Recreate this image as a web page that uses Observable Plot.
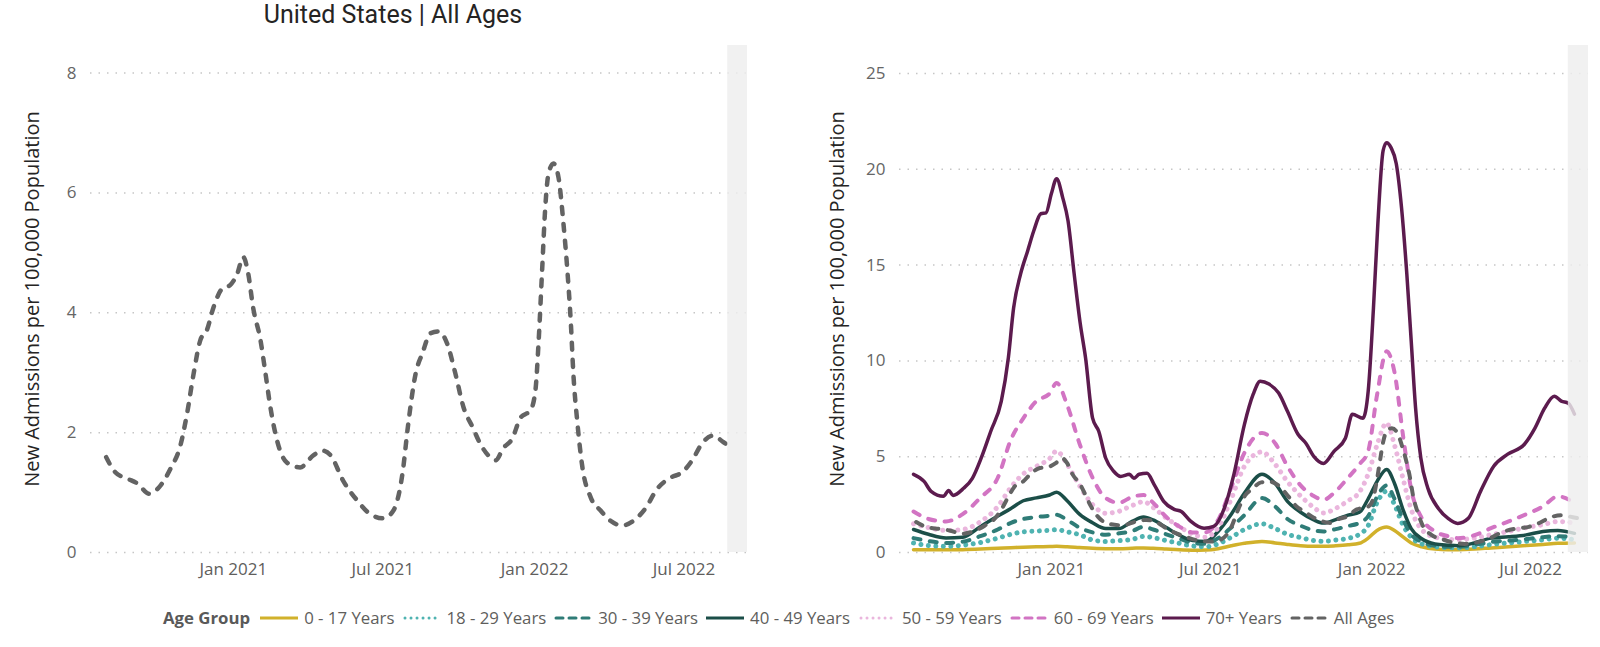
<!DOCTYPE html>
<html><head><meta charset="utf-8">
<script src="https://cdn.jsdelivr.net/npm/d3@7"></script>
<script src="https://cdn.jsdelivr.net/npm/@observablehq/plot@0.6"></script>
<style>
body{margin:0;width:1600px;height:647px;background:#fff;position:relative;overflow:hidden;font-family:"Open Sans",sans-serif;}
#title{position:absolute;left:0;width:786px;top:0;text-align:center;font-family:Roboto,sans-serif;font-size:25px;color:#252423;line-height:30px;}
#left{position:absolute;left:0;top:0;}
#right{position:absolute;left:790px;top:0;}
#legend{position:absolute;left:163px;top:607px;display:flex;align-items:center;font-size:16.8px;color:#605E5C;white-space:nowrap;line-height:22px;}
#legend .hdr{font-weight:700;color:#595959;margin-right:10px;}
#legend svg{margin-right:6px;}
#legend .lab{margin-right:8px;}
</style></head><body>
<div id="title">United States | All Ages</div>
<div id="left"></div><div id="right"></div><div id="legend"></div>
<script>
// ---------- data ----------
const leftDomain = ["2020-07-12", "2022-09-16"];
const rightDomain = ["2020-07-12", "2022-09-05"];
const leftIncomplete = ["2022-08-23", "2022-09-16"];
const rightIncomplete = ["2022-08-13", "2022-09-05"];
const xTicks = ["2021-01-01", "2021-07-01", "2022-01-01", "2022-07-01"];
const leftYTicks = [0, 2, 4, 6, 8];
const rightYTicks = [0, 5, 10, 15, 20, 25];
const leftYMax = 8.46;
const rightYMax = 26.46;
const yTitle = "New Admissions per 100,000 Population";
const legendTitle = "Age Group";
const groups = ["0 - 17 Years", "18 - 29 Years", "30 - 39 Years", "40 - 49 Years", "50 - 59 Years", "60 - 69 Years", "70+ Years", "All Ages"];

const allAgesDates = ["2020-07-31","2020-08-11","2020-08-26","2020-09-07","2020-09-21","2020-10-05","2020-10-17","2020-10-29","2020-11-06","2020-11-14",
"2020-11-22","2020-11-30","2020-12-08","2020-12-19","2020-12-28","2021-01-06","2021-01-13","2021-01-19","2021-01-25","2021-02-03",
"2021-02-09","2021-02-15","2021-02-23","2021-03-07","2021-03-23","2021-04-08","2021-04-19","2021-04-29","2021-05-14","2021-05-31",
"2021-06-16","2021-07-02","2021-07-14","2021-07-25","2021-08-01","2021-08-10","2021-08-18","2021-08-28","2021-09-07","2021-09-17",
"2021-09-27","2021-10-07","2021-10-18","2021-10-27","2021-11-06","2021-11-15","2021-11-24","2021-12-05","2021-12-15","2021-12-27",
"2022-01-02","2022-01-06","2022-01-10","2022-01-14","2022-01-18","2022-01-24","2022-01-30","2022-02-05","2022-02-10","2022-02-14",
"2022-02-17","2022-02-22","2022-02-28","2022-03-10","2022-03-22","2022-04-03","2022-04-17","2022-05-01","2022-05-15","2022-05-30",
"2022-06-15","2022-06-29","2022-07-11","2022-07-23","2022-08-05","2022-08-18","2022-08-29"];
const allAgesValues = [1.59,1.34,1.23,1.15,0.98,1.12,1.40,1.79,2.32,2.99,
3.54,3.71,4.09,4.41,4.46,4.66,4.93,4.66,4.09,3.54,
2.99,2.42,1.87,1.50,1.42,1.62,1.70,1.62,1.20,0.87,
0.64,0.57,0.70,1.32,2.15,2.99,3.32,3.66,3.69,3.49,
2.99,2.42,2.09,1.82,1.62,1.54,1.74,1.90,2.25,2.37,
2.70,3.54,4.66,5.76,6.33,6.49,6.26,5.49,4.66,3.82,
2.99,2.15,1.42,0.92,0.70,0.53,0.45,0.53,0.73,1.07,
1.25,1.34,1.54,1.82,1.95,1.84,1.74];

const age70Dates = ["2020-07-28","2020-08-09","2020-08-17","2020-08-31","2020-09-06","2020-09-11","2020-09-23","2020-10-03","2020-10-13","2020-10-24",
"2020-11-05","2020-11-13","2020-11-19","2020-11-27","2020-12-05","2020-12-12","2020-12-20","2020-12-26",
"2021-01-01","2021-01-07","2021-01-14","2021-01-20","2021-01-27","2021-02-03","2021-02-09","2021-02-17","2021-02-24","2021-03-04",
"2021-03-13","2021-03-21","2021-03-31","2021-04-05","2021-04-11","2021-04-20","2021-04-28","2021-05-09","2021-05-21","2021-05-29",
"2021-06-09","2021-06-24","2021-07-05","2021-07-17","2021-07-28","2021-08-09","2021-08-19","2021-08-27","2021-09-06","2021-09-17",
"2021-09-27","2021-10-09","2021-10-18","2021-10-27","2021-11-07","2021-11-19","2021-12-02","2021-12-10","2021-12-22","2021-12-28",
"2022-01-03","2022-01-08","2022-01-14","2022-01-18","2022-01-23","2022-01-29","2022-02-04","2022-02-10","2022-02-15","2022-02-20",
"2022-02-26","2022-03-06","2022-03-18","2022-03-29","2022-04-09","2022-04-21","2022-05-05","2022-05-20","2022-06-05","2022-06-24",
"2022-07-06","2022-07-17","2022-07-28","2022-08-05","2022-08-13","2022-08-20"];
const age70Values = [4.08,3.71,3.19,2.93,3.24,2.98,3.35,3.87,4.92,6.33,7.90,10.15,12.76,14.54,15.74,16.79,17.68,17.73,
18.72,19.51,18.51,17.31,14.54,11.92,10.15,7.01,6.33,4.92,
4.24,3.97,4.08,3.87,4.08,4.13,3.56,2.67,2.25,2.14,
1.62,1.26,1.36,2.30,4.08,6.69,8.26,8.94,8.79,8.32,
7.37,6.17,5.70,5.02,4.65,5.28,5.96,7.22,7.01,8.42,
12.76,17.15,20.97,21.39,21.13,20.29,17.99,14.54,11.04,7.53,
4.92,3.35,2.30,1.78,1.52,1.78,3.19,4.50,5.13,5.65,
6.49,7.53,8.16,7.90,7.79,7.22];

const ageDates = ["2020-07-28","2020-08-14","2020-09-03","2020-09-22","2020-10-12","2020-11-01","2020-11-16","2020-11-30","2020-12-15","2020-12-30",
"2021-01-07","2021-01-19","2021-02-02","2021-02-17","2021-03-04","2021-03-19","2021-04-03","2021-04-16","2021-04-27","2021-05-12",
"2021-05-27","2021-06-11","2021-06-26","2021-07-10","2021-07-25","2021-08-09","2021-08-29","2021-09-13","2021-09-27","2021-10-12",
"2021-10-27","2021-11-07","2021-11-21","2021-12-05","2021-12-18","2021-12-28","2022-01-07","2022-01-18","2022-01-27","2022-02-06",
"2022-02-15","2022-02-27","2022-03-14","2022-03-29","2022-04-09","2022-04-28","2022-05-17","2022-06-06","2022-06-26","2022-07-15",
"2022-08-01","2022-08-20"];
const age0Values = [0.15,0.14,0.14,0.15,0.18,0.22,0.25,0.28,0.30,0.31,
0.32,0.30,0.26,0.22,0.20,0.20,0.22,0.24,0.22,0.18,
0.14,0.12,0.13,0.20,0.35,0.48,0.58,0.50,0.42,0.35,
0.32,0.32,0.35,0.40,0.48,0.75,1.15,1.33,1.15,0.80,
0.50,0.30,0.18,0.15,0.15,0.18,0.24,0.30,0.36,0.42,
0.48,0.50];
const age18Values = [0.50,0.36,0.32,0.38,0.52,0.75,0.95,1.08,1.12,1.16,
1.19,1.08,0.93,0.65,0.58,0.62,0.68,0.84,0.78,0.62,
0.48,0.34,0.30,0.45,0.80,1.20,1.50,1.25,0.95,0.78,
0.62,0.58,0.65,0.74,0.95,1.40,2.60,3.20,2.50,1.40,
0.80,0.45,0.30,0.25,0.24,0.30,0.41,0.50,0.58,0.66,
0.75,0.67];
const age30Values = [0.75,0.60,0.50,0.56,0.85,1.20,1.55,1.75,1.85,1.92,
1.97,1.70,1.30,1.05,0.93,1.00,1.12,1.34,1.20,0.95,
0.72,0.50,0.45,0.75,1.30,1.95,2.84,2.40,1.75,1.40,
1.15,1.10,1.22,1.38,1.55,1.90,2.90,3.50,2.80,1.70,
0.95,0.55,0.35,0.30,0.30,0.40,0.55,0.62,0.70,0.80,
0.85,0.80];
const age40Values = [1.20,0.95,0.76,0.80,1.35,1.90,2.30,2.70,2.85,3.00,
3.15,2.70,2.00,1.55,1.25,1.25,1.62,1.85,1.70,1.30,
0.90,0.62,0.58,1.10,2.00,3.10,4.08,3.60,2.67,2.10,
1.70,1.54,1.72,1.95,2.10,2.80,3.70,4.33,3.60,2.20,
1.25,0.72,0.45,0.38,0.35,0.50,0.75,0.82,0.92,1.10,
1.15,1.00];
const age50Values = [1.50,1.30,1.15,1.20,1.60,2.40,3.40,4.10,4.50,4.90,
5.30,4.60,3.50,2.50,2.05,2.15,2.45,2.65,2.35,1.80,
1.35,0.95,0.80,1.30,2.80,4.50,5.25,4.60,3.70,2.95,
2.35,2.06,2.30,2.70,3.15,4.10,5.60,6.76,5.60,3.80,
2.25,1.20,0.80,0.70,0.67,0.75,0.93,1.10,1.30,1.45,
1.62,1.54];
const age60Values = [2.14,1.75,1.62,2.00,2.85,3.90,5.90,7.00,7.90,8.30,
8.85,7.70,5.70,3.90,2.84,2.60,2.90,3.00,2.60,1.85,
1.35,1.05,1.05,1.70,3.40,5.20,6.24,5.70,4.50,3.50,
2.95,2.75,3.20,3.90,4.60,5.30,8.20,10.50,9.40,6.00,
3.30,1.80,1.10,0.85,0.75,0.90,1.27,1.62,2.00,2.40,
2.93,2.60];

// ---------- styles ----------
const styleOf = {
  "0 - 17 Years":  {stroke: "#D1B12B", width: 3.5, dash: null},
  "18 - 29 Years": {stroke: "#4FB3B1", width: 5,   dash: "0.01,7.5"},
  "30 - 39 Years": {stroke: "#2F7C77", width: 4,   dash: "7,9.5"},
  "40 - 49 Years": {stroke: "#1B4E48", width: 3.5, dash: null},
  "50 - 59 Years": {stroke: "#EAB6DD", width: 5,   dash: "0.01,7.5"},
  "60 - 69 Years": {stroke: "#D274C3", width: 4,   dash: "7,9.5"},
  "70+ Years":     {stroke: "#5C1B4E", width: 3.5, dash: null},
  "All Ages":      {stroke: "#636363", width: 4,   dash: "7,9.5"}
};

const parse = d3.utcParse("%Y-%m-%d");
const toRows = (dates, values) => dates.map((d, i) => ({date: parse(d), value: values[i]}));
const seriesData = {
  "0 - 17 Years": toRows(ageDates, age0Values),
  "18 - 29 Years": toRows(ageDates, age18Values),
  "30 - 39 Years": toRows(ageDates, age30Values),
  "40 - 49 Years": toRows(ageDates, age40Values),
  "50 - 59 Years": toRows(ageDates, age50Values),
  "60 - 69 Years": toRows(ageDates, age60Values),
  "70+ Years": toRows(age70Dates, age70Values),
  "All Ages": toRows(allAgesDates, allAgesValues)
};

function lineFor(name, o = {}) {
  const s = styleOf[name];
  return Plot.lineY(seriesData[name], {
    x: "date", y: "value", stroke: s.stroke, strokeWidth: o.width || s.width,
    strokeDasharray: o.dash || s.dash || undefined, strokeLinecap: "round", strokeLinejoin: "round",
    curve: "monotone-x"
  });
}

function chart({width, marginLeft, marginRight, domain, incomplete, yMax, yTicks, titleDx, names, lineOpts}) {
  const band = [{start: parse(incomplete[0]), end: parse(incomplete[1])}];
  return Plot.plot({
    width, height: 585, marginLeft, marginRight, marginTop: 45, marginBottom: 33,
    x: {type: "utc", domain: domain.map(parse)},
    y: {domain: [0, yMax]},
    style: {fontFamily: "'Open Sans', sans-serif", background: "transparent", overflow: "visible"},
    marks: [
      Plot.gridY(yTicks, {stroke: "#c6c6c6", strokeOpacity: 1, strokeWidth: 1.5, strokeDasharray: "1.5,7"}),
      Plot.axisY(yTicks, {tickSize: 0, tickPadding: 14, fontSize: 17, color: "#666666", label: null, tickFormat: d => String(d)}),
      Plot.axisX(xTicks.map(parse), {tickSize: 0, tickPadding: 10, fontSize: 17, color: "#605E5C", label: null, tickFormat: d3.utcFormat("%b %Y")}),
      Plot.text([yTitle], {frameAnchor: "left", textAnchor: "middle", rotate: -90, dx: titleDx, fontSize: 20, fill: "#252423"}),
      ...names.map(n => lineFor(n, lineOpts)),
      Plot.rect(band, {x1: "start", x2: "end", y1: 0, y2: yMax, fill: "#eeeeee", fillOpacity: 0.82})
    ]
  });
}

document.getElementById("left").append(chart({
  width: 790, marginLeft: 90, marginRight: 43, domain: leftDomain, incomplete: leftIncomplete,
  yMax: leftYMax, yTicks: leftYTicks, titleDx: -58, names: ["All Ages"],
  lineOpts: {width: 4.5, dash: "7,10"}
}));
document.getElementById("right").append(chart({
  width: 810, marginLeft: 109, marginRight: 12, domain: rightDomain, incomplete: rightIncomplete,
  yMax: rightYMax, yTicks: rightYTicks, titleDx: -62, names: groups, lineOpts: {}
}));

// ---------- legend ----------
const legend = d3.select("#legend");
legend.append("span").attr("class", "hdr").text(legendTitle);
groups.forEach(g => {
  const s = styleOf[g];
  const dotted = s.dash && s.dash.startsWith("0.01");
  const sv = legend.append("svg").attr("width", 38).attr("height", 10);
  sv.append("line").attr("x1", dotted ? 3 : (s.dash ? 2 : 0)).attr("x2", dotted ? 36 : (s.dash ? 36 : 38)).attr("y1", 5).attr("y2", 5)
    .attr("stroke", s.stroke).attr("stroke-width", 3)
    .attr("stroke-linecap", s.dash ? "round" : "butt")
    .attr("stroke-dasharray", s.dash ? (dotted ? "0.01,6" : "7,6") : null);
  legend.append("span").attr("class", "lab").text(g);
});
</script></body></html>
